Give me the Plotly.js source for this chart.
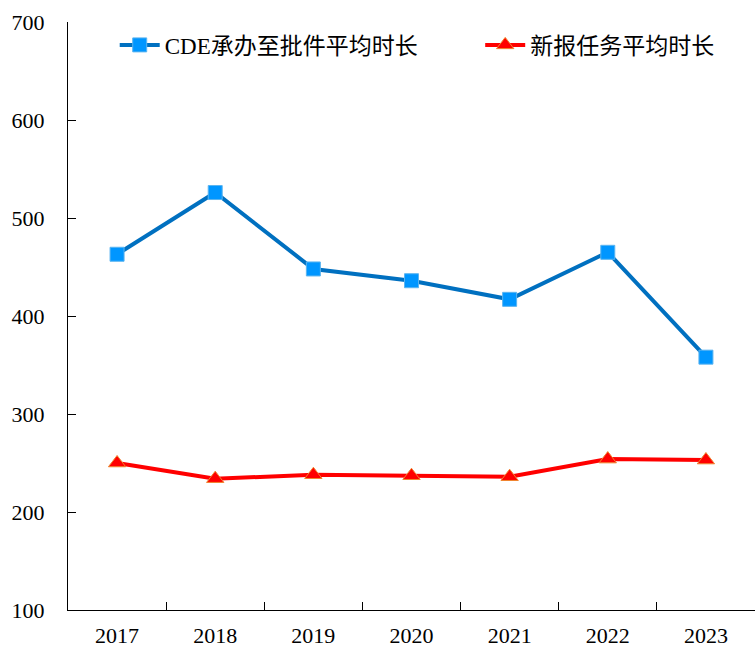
<!DOCTYPE html>
<html>
<head>
<meta charset="utf-8">
<script src="https://cdn.plot.ly/plotly-3.0.1.min.js"></script>
<style>html,body{margin:0;padding:0;background:#fff;}#chart{width:755px;height:649px;}</style>
</head>
<body>
<div id="chart"></div>
<script>
var years = ['2017', '2018', '2019', '2020', '2021', '2022', '2023'];
var cdeApproval = [463, 526, 448, 436, 417, 465, 358];
var newTask = [250, 234, 238, 237, 236, 254, 253];
var seriesNames = ['CDE承办至批件平均时长', '新报任务平均时长'];
var yTicks = [100, 200, 300, 400, 500, 600, 700];

var FONT = '"Liberation Serif", "Times New Roman", "Noto Sans CJK SC", serif';

var traces = [
  {
    x: years, y: cdeApproval, name: seriesNames[0], type: 'scatter', mode: 'lines+markers',
    legend: 'legend',
    line: {color: '#0070C0', width: 4},
    marker: {symbol: 'square', size: 14, color: '#0096FF', line: {color: '#5BB4F0', width: 1}}
  },
  {
    x: years, y: newTask, name: seriesNames[1], type: 'scatter', mode: 'lines+markers',
    legend: 'legend2',
    line: {color: '#FF0000', width: 4},
    marker: {symbol: 'triangle-up', size: 15, color: '#FF0000', line: {color: '#F0852F', width: 1}}
  }
];

var legendCommon = {
  orientation: 'h', y: 0.961, xanchor: 'left', yanchor: 'middle',
  font: {family: FONT, size: 23, color: '#000'},
  itemwidth: 40,
  bgcolor: 'rgba(0,0,0,0)'
};

var layout = {
  width: 755, height: 649,
  margin: {l: 68, r: 0, t: 22, b: 39},
  paper_bgcolor: '#fff', plot_bgcolor: '#fff',
  font: {family: FONT, size: 22, color: '#000'},
  showlegend: true,
  legend: Object.assign({}, legendCommon, {x: 0.068}),
  legend2: Object.assign({}, legendCommon, {x: 0.600}),
  xaxis: {
    type: 'category', range: [-0.5, 6.5],
    showline: true, linecolor: '#000', linewidth: 1,
    ticks: 'inside', ticklen: 8, tickcolor: '#000', tickson: 'boundaries',
    showgrid: false, zeroline: false,
    ticklabelstandoff: 6,
    tickfont: {family: FONT, size: 22, color: '#000'}
  },
  yaxis: {
    range: [100, 700], tickvals: yTicks, ticktext: yTicks.map(String),
    showline: true, linecolor: '#000', linewidth: 1,
    ticks: 'inside', ticklen: 8, tickcolor: '#000',
    showgrid: false, zeroline: false,
    ticklabelstandoff: 18,
    tickfont: {family: FONT, size: 22, color: '#000'}
  }
};

Plotly.newPlot('chart', traces, layout, {displayModeBar: false, staticPlot: true});
</script>
</body>
</html>
